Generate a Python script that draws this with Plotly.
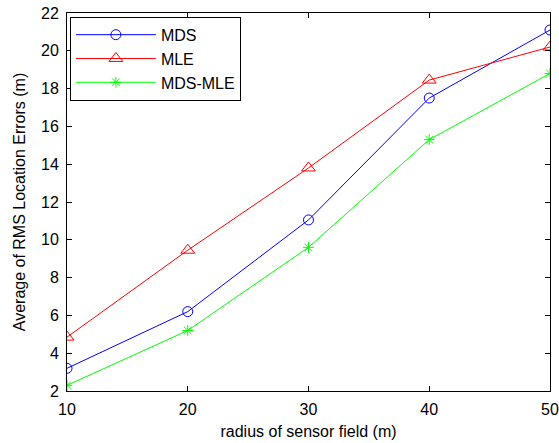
import plotly.graph_objects as go

radius = [10, 20, 30, 40, 50]
mds = [3.2, 6.2, 11.05, 17.5, 21.1]
mle = [4.85, 9.45, 13.8, 18.45, 20.2]
mds_mle = [2.3, 5.2, 9.6, 15.3, 18.8]

font = "Liberation Sans, Arial, sans-serif"
fig = go.Figure()
fig.add_trace(go.Scatter(x=radius, y=mds, name="MDS", mode="lines+markers",
                         line=dict(color="#0000ff", width=1),
                         marker=dict(symbol="circle-open", size=10, color="#0000ff", line=dict(width=1))))
fig.add_trace(go.Scatter(x=radius, y=mle, name="MLE", mode="lines+markers",
                         line=dict(color="#ff0000", width=1),
                         marker=dict(symbol="triangle-up-open", size=12, color="#ff0000", line=dict(width=1))))
fig.add_trace(go.Scatter(x=radius, y=mds_mle, name="MDS-MLE", mode="lines+markers",
                         line=dict(color="#00ff00", width=1),
                         marker=dict(symbol="asterisk-open", size=9, color="#00ff00", line=dict(width=1, color="#00ff00"))))

axis_common = dict(showline=True, linecolor="black", linewidth=1, mirror="ticks",
                   ticks="inside", ticklen=5, tickcolor="black", showgrid=False, zeroline=False,
                   automargin=False,
                   tickfont=dict(family=font, size=16, color="black"))
fig.update_layout(
    width=559, height=443,
    margin=dict(l=67, r=9, t=13, b=52),
    plot_bgcolor="white", paper_bgcolor="white",
    font=dict(family=font, color="black"),
    xaxis=dict(range=[10, 50], tickvals=[10, 20, 30, 40, 50], ticklabelstandoff=4,
               title=dict(text="radius of sensor field (m)", font=dict(family=font, size=16), standoff=8),
               **axis_common),
    yaxis=dict(range=[2, 22], tickvals=list(range(2, 23, 2)), ticklabelstandoff=4,
               title=dict(text="Average of RMS Location Errors (m)", font=dict(family=font, size=16), standoff=11),
               **axis_common),
    legend=dict(x=0.006, y=0.99, xanchor="left", yanchor="top", bordercolor="black", borderwidth=1,
                bgcolor="white", font=dict(family=font, size=16), itemwidth=80,
                tracegroupgap=0),
    showlegend=True,
)
fig.write_html("out.html")
